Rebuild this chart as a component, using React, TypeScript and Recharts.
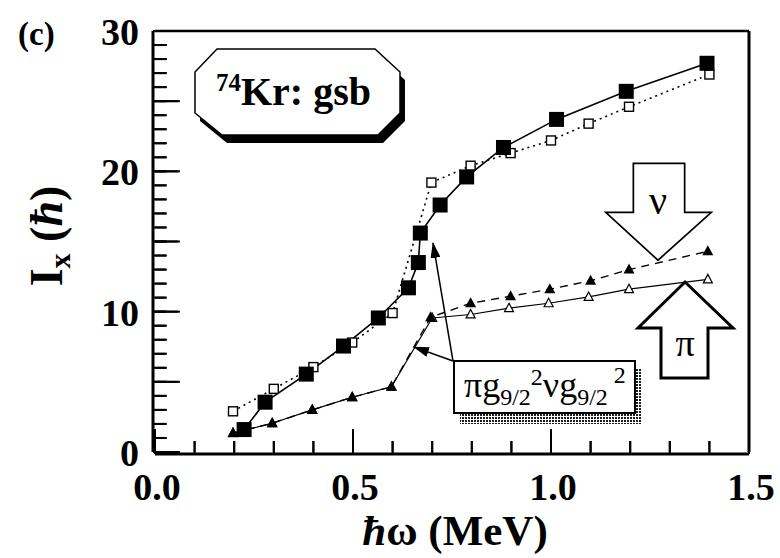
import { LineChart, Line, XAxis, YAxis, ReferenceLine } from 'recharts';

// experimental gsb (filled squares, solid)
const expX = [0.225, 0.278, 0.382, 0.476, 0.564, 0.64, 0.665, 0.67, 0.72, 0.787, 0.88, 1.014, 1.19, 1.394];
const expY = [1.6, 3.55, 5.55, 7.55, 9.55, 11.7, 13.5, 15.6, 17.6, 19.6, 21.7, 23.7, 25.7, 27.7];

// calculated total (open squares, dotted)
const calcX = [0.197, 0.3, 0.4, 0.498, 0.6, 0.698, 0.797, 0.898, 1.0, 1.095, 1.197, 1.4];
const calcY = [2.9, 4.5, 6.05, 7.8, 9.9, 19.2, 20.4, 21.3, 22.2, 23.4, 24.6, 26.9];

// neutron contribution (filled triangles, dashed)
const nuX = [0.197, 0.296, 0.397, 0.498, 0.597, 0.696, 0.797, 0.898, 0.997, 1.1, 1.197, 1.396];
const nuY = [1.35, 2.05, 3.0, 3.9, 4.65, 9.6, 10.6, 11.1, 11.6, 12.2, 13.0, 14.3];

// proton contribution (open triangles, solid)
const piX = [0.197, 0.296, 0.397, 0.498, 0.597, 0.7, 0.797, 0.894, 0.994, 1.095, 1.197, 1.396];
const piY = [1.35, 2.05, 3.0, 3.9, 4.65, 9.55, 9.8, 10.25, 10.6, 11.05, 11.6, 12.3];

const xMinorTicks = [0, 0.1, 0.2, 0.3, 0.4, 0.5, 0.6, 0.7, 0.8, 0.9, 1.0, 1.1, 1.2, 1.3, 1.4, 1.5];
const xMajorTicks = [0, 0.5, 1.0, 1.5];
const xLabels = ['0.0', '0.5', '1.0', '1.5'];
const yMinorTicks = Array.from({ length: 31 }, (_, i) => i);
const yMajorTicks = [0, 5, 10, 15, 20, 25, 30];
const yLabelTicks = [0, 10, 20, 30];
const yLabels = ['0', '10', '20', '30'];

// inward tick lengths for the reference-line ticks, in axis units
const X_TICK_MINOR = 0.78;
const X_TICK_MAJOR = 1.64;
const Y_TICK_MINOR = 0.03;
const Y_TICK_MAJOR = 0.063;

const zip = (xs: number[], ys: number[]) => xs.map((x, i) => ({ x, y: ys[i] }));

const expData = zip(expX, expY);
const calcData = zip(calcX, calcY);
const nuData = zip(nuX, nuY);
const piData = zip(piX, piY);

const SERIF = '"Liberation Serif", "Times New Roman", serif';
const blank = () => '';

const filledSquare = (p: any) => (
  <rect key={`fs-${p.index}`} x={p.cx - 7.5} y={p.cy - 7.5} width={15} height={15} fill="#000" />
);
const openSquare = (p: any) => (
  <rect key={`os-${p.index}`} x={p.cx - 4.5} y={p.cy - 4.5} width={9} height={9} fill="#fff" stroke="#000" strokeWidth={1.4} />
);
const filledTri = (p: any) => (
  <path key={`ft-${p.index}`} d={`M${p.cx},${p.cy - 6} L${p.cx + 5.5},${p.cy + 4} L${p.cx - 5.5},${p.cy + 4} Z`} fill="#000" />
);
const openTri = (p: any) => (
  <path key={`ot-${p.index}`} d={`M${p.cx},${p.cy - 5} L${p.cx + 4.5},${p.cy + 3.5} L${p.cx - 4.5},${p.cy + 3.5} Z`} fill="#fff" stroke="#000" strokeWidth={1.2} />
);

const renderXTick = (props: any) => {
  const { x, y, index } = props;
  return (
    <text x={x + 2} y={y + 48} textAnchor="middle" fontFamily={SERIF} fontWeight="bold" fontSize={38} fill="#000" stroke="none">
      {xLabels[index]}
    </text>
  );
};

const renderYTick = (props: any) => {
  const { x, y, index } = props;
  return (
    <text x={x - 16} y={y + 14} textAnchor="end" fontFamily={SERIF} fontWeight="bold" fontSize={38} fill="#000" stroke="none">
      {yLabels[index]}
    </text>
  );
};

function Annotations() {
  return (
    <svg width={780} height={558} style={{ position: 'absolute', left: 0, top: 0, pointerEvents: 'none' }}>
      <defs>
        <pattern id="hatch" width="3" height="3" patternUnits="userSpaceOnUse">
          <rect width="3" height="3" fill="#fff" />
          <rect width="2" height="2" fill="#1a1a1a" />
        </pattern>
        <marker id="head" viewBox="0 0 16 10" refX="15" refY="5" markerWidth="16" markerHeight="10" markerUnits="userSpaceOnUse" orient="auto">
          <path d="M0,0 L16,5 L0,10 Z" fill="#000" />
        </marker>
      </defs>

      {/* panel letter */}
      <text x={18} y={45} fontFamily={SERIF} fontWeight="bold" fontSize={33}>(c)</text>

      {/* axis titles */}
      <text x={62} y={236} transform="rotate(-90, 62, 236)" textAnchor="middle" fontFamily={SERIF} fontWeight="bold" fontSize={46}>
        <tspan>I</tspan>
        <tspan fontSize={30} dy={8}>x</tspan>
        <tspan dy={-8}> (</tspan>
        <tspan fontStyle="italic">ħ</tspan>
        <tspan>)</tspan>
      </text>
      <text x={455} y={545} textAnchor="middle" fontFamily={SERIF} fontWeight="bold" fontSize={43}>
        <tspan fontStyle="italic">ħ</tspan>
        <tspan>ω (MeV)</tspan>
      </text>

      {/* 74Kr label box */}
      <polygon points="222,57 380,57 405,80 405,121 383,143 227,143 200,121 200,80" fill="#000" />
      <polygon points="217,49 375,49 400,72 400,113 378,135 222,135 195,113 195,72" fill="#fff" stroke="#000" strokeWidth={1.5} />
      <text x={216} y={105} fontFamily={SERIF} fontWeight="bold" fontSize={40}>
        <tspan fontSize={25} dy={-14}>74</tspan>
        <tspan dy={14}>Kr: gsb</tspan>
      </text>

      {/* configuration label box */}
      <rect x={460} y={368} width={181} height={56} fill="url(#hatch)" />
      <rect x={454} y={361} width={181} height={52} fill="#fff" stroke="#000" strokeWidth={2} />
      <text x={464} y={397} fontFamily={SERIF} fontSize={36}>
        <tspan>πg</tspan>
        <tspan fontSize={24} dy={8}>9/2</tspan>
        <tspan fontSize={24} dy={-20}>2</tspan>
        <tspan dy={12}>νg</tspan>
        <tspan fontSize={24} dy={8}>9/2</tspan>
        <tspan fontSize={24} dx={6} dy={-22}>2</tspan>
      </text>
      <line x1={453} y1={361} x2={433} y2={243} stroke="#000" strokeWidth={1.5} markerEnd="url(#head)" />
      <line x1={453} y1={361} x2={414} y2={347} stroke="#000" strokeWidth={1.5} markerEnd="url(#head)" />

      {/* nu arrow (down) */}
      <polygon points="635,165 683,165 683,214 707,214 658,258 610,214 635,214" fill="#fff" stroke="#000" strokeWidth={5} strokeLinejoin="miter" />
      <polygon points="635,165 683,165 683,214 707,214 658,258 610,214 635,214" fill="#fff" stroke="#fff" strokeWidth={1.6} strokeLinejoin="miter" />
      <text x={658} y={214} textAnchor="middle" fontFamily={SERIF} fontSize={40}>ν</text>

      {/* pi arrow (up) */}
      <polygon points="685,282 733,328 708,328 708,378 661,378 661,328 638,328" fill="#fff" stroke="#000" strokeWidth={3} />
      <text x={685} y={356} textAnchor="middle" fontFamily={SERIF} fontSize={38}>π</text>
    </svg>
  );
}

export default function App() {
  return (
    <div style={{ position: 'absolute', left: 0, top: 0, width: 780, height: 558, background: '#fff' }}>
      <LineChart width={780} height={558} margin={{ top: 30, right: 30, bottom: 103, left: 152 }}>
        {/* bottom: long ticks + axis line (innermost), short ticks, then labels */}
        <XAxis
          xAxisId="b5"
          type="number"
          dataKey="x"
          domain={[0, 1.5]}
          ticks={xMajorTicks}
          interval={0}
          height={1}
          axisLine={{ stroke: '#000', strokeWidth: 3 }}
          tickLine={{ stroke: '#000', strokeWidth: 2 }}
          tickSize={-23}
          tickMargin={23}
          tickFormatter={blank}
          allowDataOverflow
        />
        <XAxis
          xAxisId="b1"
          type="number"
          dataKey="x"
          domain={[0, 1.5]}
          ticks={xMinorTicks}
          interval={0}
          height={1}
          axisLine={false}
          tickLine={{ stroke: '#000', strokeWidth: 2 }}
          tickSize={-12}
          tickMargin={12}
          tickFormatter={blank}
          allowDataOverflow
        />
        <XAxis
          xAxisId="b"
          type="number"
          dataKey="x"
          domain={[0, 1.5]}
          ticks={xMajorTicks}
          interval={0}
          height={1}
          axisLine={false}
          tickLine={false}
          tickSize={0}
          tickMargin={0}
          tick={renderXTick}
          allowDataOverflow
        />
        <XAxis
          xAxisId="t"
          orientation="top"
          type="number"
          dataKey="x"
          domain={[0, 1.5]}
          ticks={[]}
          height={1}
          axisLine={{ stroke: '#000', strokeWidth: 2.5 }}
          tickLine={false}
          tick={false}
          allowDataOverflow
        />
        {/* left: long ticks + axis line (innermost), short ticks, then labels */}
        <YAxis
          yAxisId="l5"
          type="number"
          dataKey="y"
          domain={[0, 30]}
          ticks={yMajorTicks}
          interval={0}
          width={1}
          axisLine={{ stroke: '#000', strokeWidth: 3 }}
          tickLine={{ stroke: '#000', strokeWidth: 2 }}
          tickSize={-25}
          tickMargin={25}
          tickFormatter={blank}
          allowDataOverflow
        />
        <YAxis
          yAxisId="l1"
          type="number"
          dataKey="y"
          domain={[0, 30]}
          ticks={yMinorTicks}
          interval={0}
          width={1}
          axisLine={false}
          tickLine={{ stroke: '#000', strokeWidth: 2 }}
          tickSize={-12}
          tickMargin={12}
          tickFormatter={blank}
          allowDataOverflow
        />
        <YAxis
          yAxisId="l"
          type="number"
          dataKey="y"
          domain={[0, 30]}
          ticks={yLabelTicks}
          interval={0}
          width={1}
          axisLine={false}
          tickLine={false}
          tickSize={0}
          tickMargin={0}
          tick={renderYTick}
          allowDataOverflow
        />
        <YAxis
          yAxisId="r"
          orientation="right"
          type="number"
          dataKey="y"
          domain={[0, 30]}
          ticks={[]}
          width={1}
          axisLine={{ stroke: '#000', strokeWidth: 3 }}
          tickLine={false}
          tick={false}
          allowDataOverflow
        />

        {/* inward tick marks drawn again through the scales */}
        {xMinorTicks.map((v) => (
          <ReferenceLine key={`xm-${v}`} xAxisId="b5" yAxisId="l5" segment={[{ x: v, y: 0 }, { x: v, y: X_TICK_MINOR }]} stroke="#000" strokeWidth={2} />
        ))}
        {xMajorTicks.map((v) => (
          <ReferenceLine key={`xM-${v}`} xAxisId="b5" yAxisId="l5" segment={[{ x: v, y: 0 }, { x: v, y: X_TICK_MAJOR }]} stroke="#000" strokeWidth={2} />
        ))}
        {yMinorTicks.map((v) => (
          <ReferenceLine key={`ym-${v}`} xAxisId="b5" yAxisId="l5" segment={[{ x: 0, y: v }, { x: Y_TICK_MINOR, y: v }]} stroke="#000" strokeWidth={2} />
        ))}
        {yMajorTicks.map((v) => (
          <ReferenceLine key={`yM-${v}`} xAxisId="b5" yAxisId="l5" segment={[{ x: 0, y: v }, { x: Y_TICK_MAJOR, y: v }]} stroke="#000" strokeWidth={2} />
        ))}

        <Line xAxisId="b5" yAxisId="l5" data={calcData} dataKey="y" stroke="#000" strokeWidth={1.6} strokeDasharray="2 4" dot={openSquare} isAnimationActive={false} />
        <Line xAxisId="b5" yAxisId="l5" data={expData} dataKey="y" stroke="#000" strokeWidth={1.6} dot={filledSquare} isAnimationActive={false} />
        <Line xAxisId="b5" yAxisId="l5" data={piData} dataKey="y" stroke="#000" strokeWidth={1.2} dot={openTri} isAnimationActive={false} />
        <Line xAxisId="b5" yAxisId="l5" data={nuData} dataKey="y" stroke="#000" strokeWidth={1.4} strokeDasharray="8 6" dot={filledTri} isAnimationActive={false} />
      </LineChart>
      <Annotations />
    </div>
  );
}
